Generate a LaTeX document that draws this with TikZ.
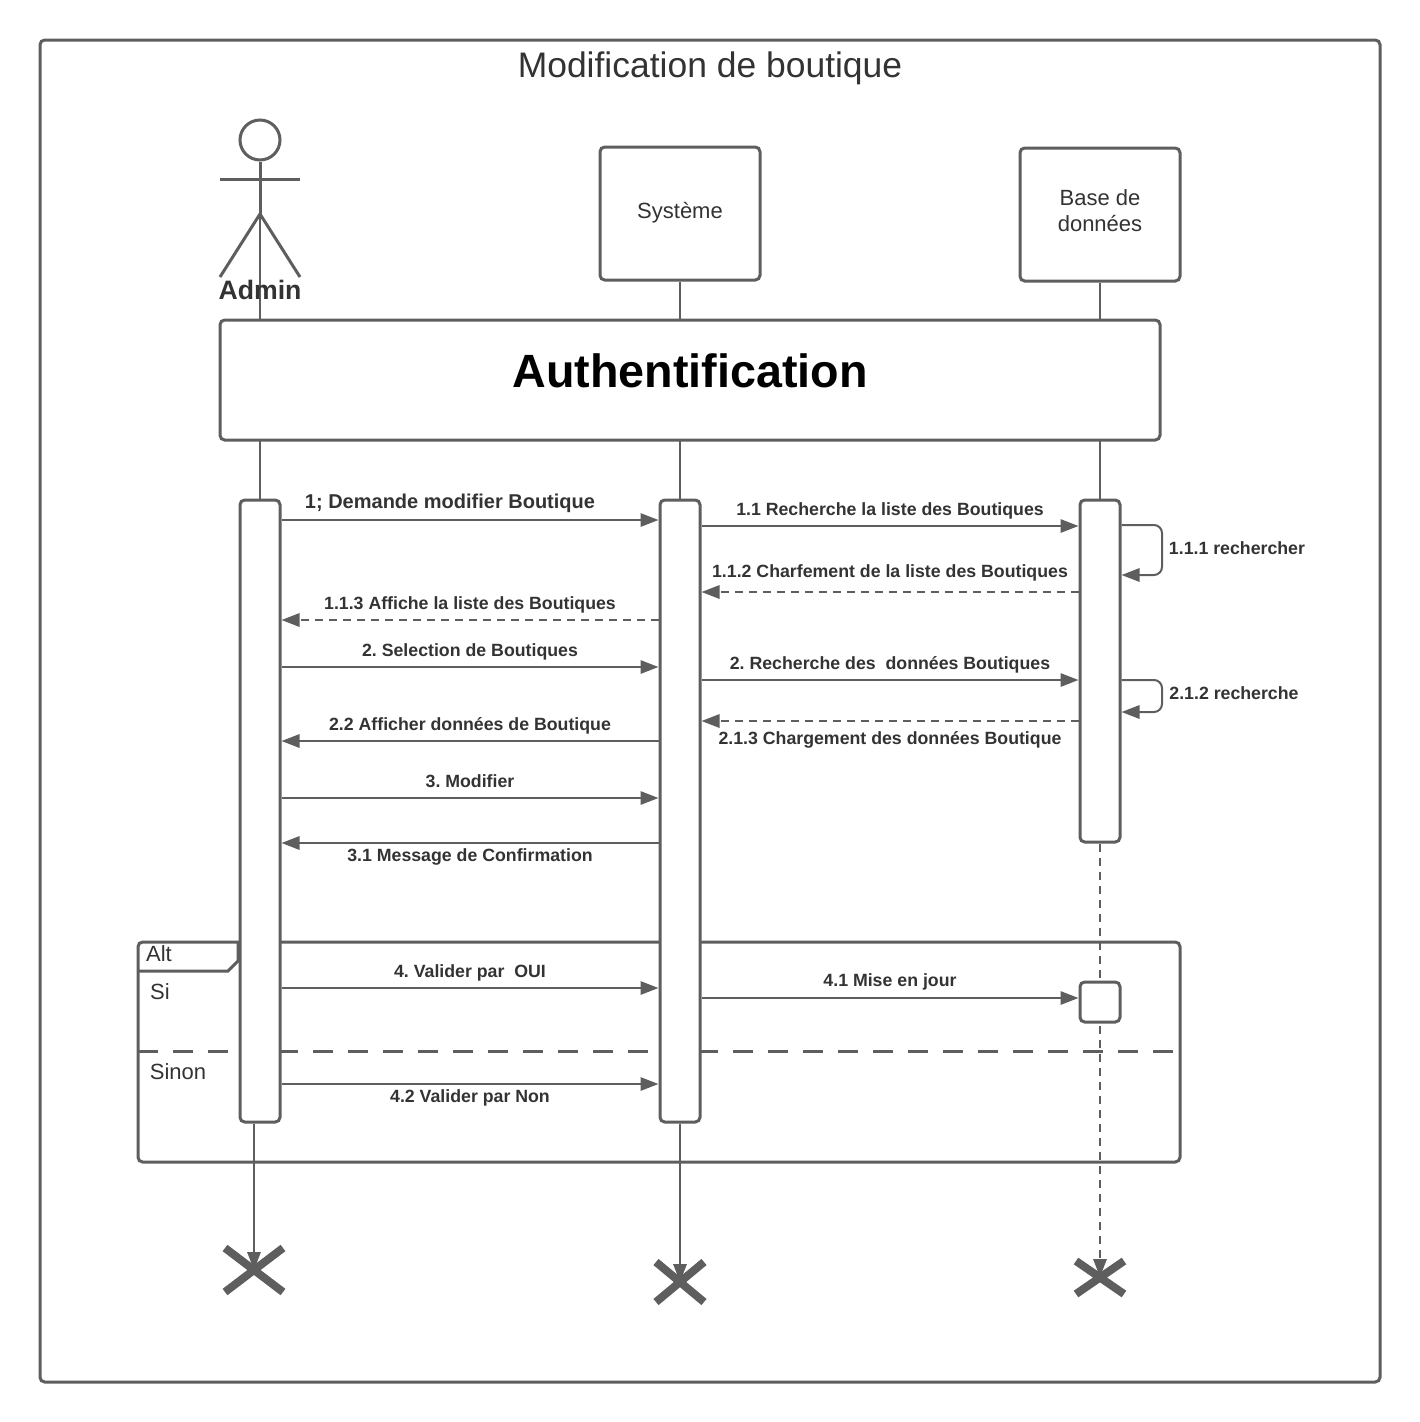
\documentclass[tikz,border=0pt]{standalone}
\usepackage{fontspec}
\setmainfont{Liberation Sans}
\frenchspacing
\usetikzlibrary{arrows.meta}
\definecolor{ln}{HTML}{5E5E5E}
\definecolor{tx}{HTML}{333333}
\newcommand{\pxbox}[6][]{\node[#2,#1,minimum width=#5*0.75pt,minimum height=#6*0.75pt] (#3) at (#4) {};}
\newcommand{\lab}[4]{\node[mlabel] (#1) at (#2,#3) {#4};}
\tikzset{
  box/.style={draw=ln,line width=2.25pt,rounded corners=3.5pt,fill=white,inner sep=0pt,align=center,text=tx,font=\fontsize{16.5}{20}\selectfont},
  msg/.style={draw=ln,line width=1.5pt,-{Triangle[length=13.5pt,width=10pt]}},
  ret/.style={msg,dash pattern=on 6pt off 4.5pt},
  life/.style={draw=ln,line width=1.5pt},
  shape line/.style={draw=ln,line width=2.25pt},
  mlabel/.style={inner sep=0pt,text=tx,font=\bfseries\fontsize{13.3}{16}\selectfont},
  note/.style={inner sep=0pt,text=tx,font=\fontsize{16.5}{19.5}\selectfont},
  kill/.style={draw=ln,line width=6pt}
}
\begin{document}
\begin{tikzpicture}[x=0.75pt,y=-0.75pt]
\useasboundingbox (0,0) rectangle (1420,1422);
% frame
\draw[shape line,rounded corners=3.5pt] (40,40) rectangle (1380,1382);
\node[inner sep=0pt,text=tx,font=\fontsize{26.6}{30}\selectfont] (title) at (710,68) {Modification de boutique};
% actor
\node[circle,draw=ln,line width=2.25pt,minimum size=30pt,inner sep=0pt] (head) at (260,140) {};
\coordinate (hip) at (260,214);
\coordinate (armL) at (220,179);
\coordinate (armR) at (300,179);
\coordinate (legL) at (220,277);
\coordinate (legR) at (300,277);
\draw[shape line] (head.south) -- (hip);
\draw[shape line] (armL) -- (armR);
\draw[shape line] (legL) -- (hip) -- (legR);
% objects
\pxbox[]{box}{sys}{680,213.5}{160}{133}
\node[note] (sysT) at (680,213) {Système};
\pxbox[]{box}{db}{1100,214.5}{160}{133}
\node[note,align=center] (dbT) at (1100,211) {Base de\\données};
% lifelines
\coordinate (lifeA) at (260,500);
\coordinate (lifeS) at (680,500);
\coordinate (lifeD) at (1100,500);
\draw[life] (hip) -- (lifeA);
\draw[life] (sys.south) -- (lifeS);
\draw[life] (db.south) -- (lifeD);
\node[inner sep=0pt,text=tx,font=\bfseries\fontsize{20}{24}\selectfont] (admin) at (260,290) {Admin};
% authentication
\pxbox[]{box}{auth}{690,380}{940}{120}
\node[inner sep=0pt,text=black,font=\bfseries\fontsize{35}{40}\selectfont] (authT) at (690,371) {Authentification};
% alt frame
\draw[shape line,rounded corners=3.5pt] (138,942) rectangle (1180,1162);
\draw[shape line] (138,971) -- (228,971) -- (238,961) -- (238,942);
\draw[shape line,dash pattern=on 15pt off 11.25pt] (138,1051.5) -- (1180,1051.5);
\node[note] (alt) at (159,954) {Alt};
\node[note] (si) at (160,992) {Si};
\node[note] (sinon) at (178,1072) {Sinon};
% kills
\coordinate (killA) at (254,1270);
\coordinate (killS) at (680,1282);
\coordinate (killD) at (1100,1277);
\draw[kill] (225,1248) -- (283,1292);
\draw[kill] (225,1292) -- (283,1248);
\draw[kill] (656,1262) -- (704,1302);
\draw[kill] (656,1302) -- (704,1262);
\draw[kill] (1076,1261) -- (1124,1294);
\draw[kill] (1076,1294) -- (1124,1261);
% activation bars
\pxbox[]{box}{barA}{260,811}{40}{622}
\pxbox[]{box}{barS}{680,811}{40}{622}
\pxbox[]{box}{barD}{1100,671}{40}{342}
\draw[ret] (barD.south) -- (killD);
\pxbox[]{box}{barD2}{1100,1002}{40}{40}
\draw[msg] (barA.south -| killA) -- (killA);
\draw[msg] (barS.south) -- (killS);
% messages
\draw[msg] (barA.east |- 0,520) -- (barS.west |- 0,520);
\node[inner sep=0pt,text=tx,font=\bfseries\fontsize{15}{18}\selectfont] (m1) at (450,503.5) {1; Demande modifier Boutique};
\draw[msg] (barS.east |- 0,526) -- (barD.west |- 0,526);
\lab{m11}{890}{511}{1.1 Recherche la liste des Boutiques}
\draw[msg,rounded corners=6pt] (barD.east |- 0,525) -- (1162,525) -- (1162,575) -- (barD.east |- 0,575);
\lab{m111}{1237}{548}{1.1.1 rechercher}
\draw[ret] (barD.west |- 0,592) -- (barS.east |- 0,592);
\lab{m112}{890}{572.5}{1.1.2 Charfement de la liste des Boutiques}
\draw[ret] (barS.west |- 0,620) -- (barA.east |- 0,620);
\lab{m113}{470}{604.5}{1.1.3 Affiche la liste des Boutiques}
\draw[msg] (barA.east |- 0,667) -- (barS.west |- 0,667);
\lab{m2}{470}{651.5}{2. Selection de Boutiques}
\draw[msg] (barS.east |- 0,680) -- (barD.west |- 0,680);
\lab{m21}{890}{664.5}{2. Recherche des\ \ données Boutiques}
\draw[msg,rounded corners=6pt] (barD.east |- 0,680) -- (1162,680) -- (1162,712) -- (barD.east |- 0,712);
\lab{m212}{1234}{693.5}{2.1.2 recherche}
\draw[ret] (barD.west |- 0,721) -- (barS.east |- 0,721);
\lab{m213}{890}{739.5}{2.1.3 Chargement des données Boutique}
\draw[msg] (barS.west |- 0,741) -- (barA.east |- 0,741);
\lab{m22}{470}{725.5}{2.2 Afficher données de Boutique}
\draw[msg] (barA.east |- 0,798) -- (barS.west |- 0,798);
\lab{m3}{470}{781}{3. Modifier}
\draw[msg] (barS.west |- 0,843) -- (barA.east |- 0,843);
\lab{m31}{470}{857}{3.1 Message de Confirmation}
\draw[msg] (barA.east |- 0,988) -- (barS.west |- 0,988);
\lab{m4}{470}{973}{4. Valider par\ \ OUI}
\draw[msg] (barS.east |- 0,998) -- (barD2.west |- 0,998);
\lab{m41}{890}{982}{4.1 Mise en jour}
\draw[msg] (barA.east |- 0,1084) -- (barS.west |- 0,1084);
\lab{m42}{470}{1097.5}{4.2 Valider par Non}
\end{tikzpicture}
\end{document}
